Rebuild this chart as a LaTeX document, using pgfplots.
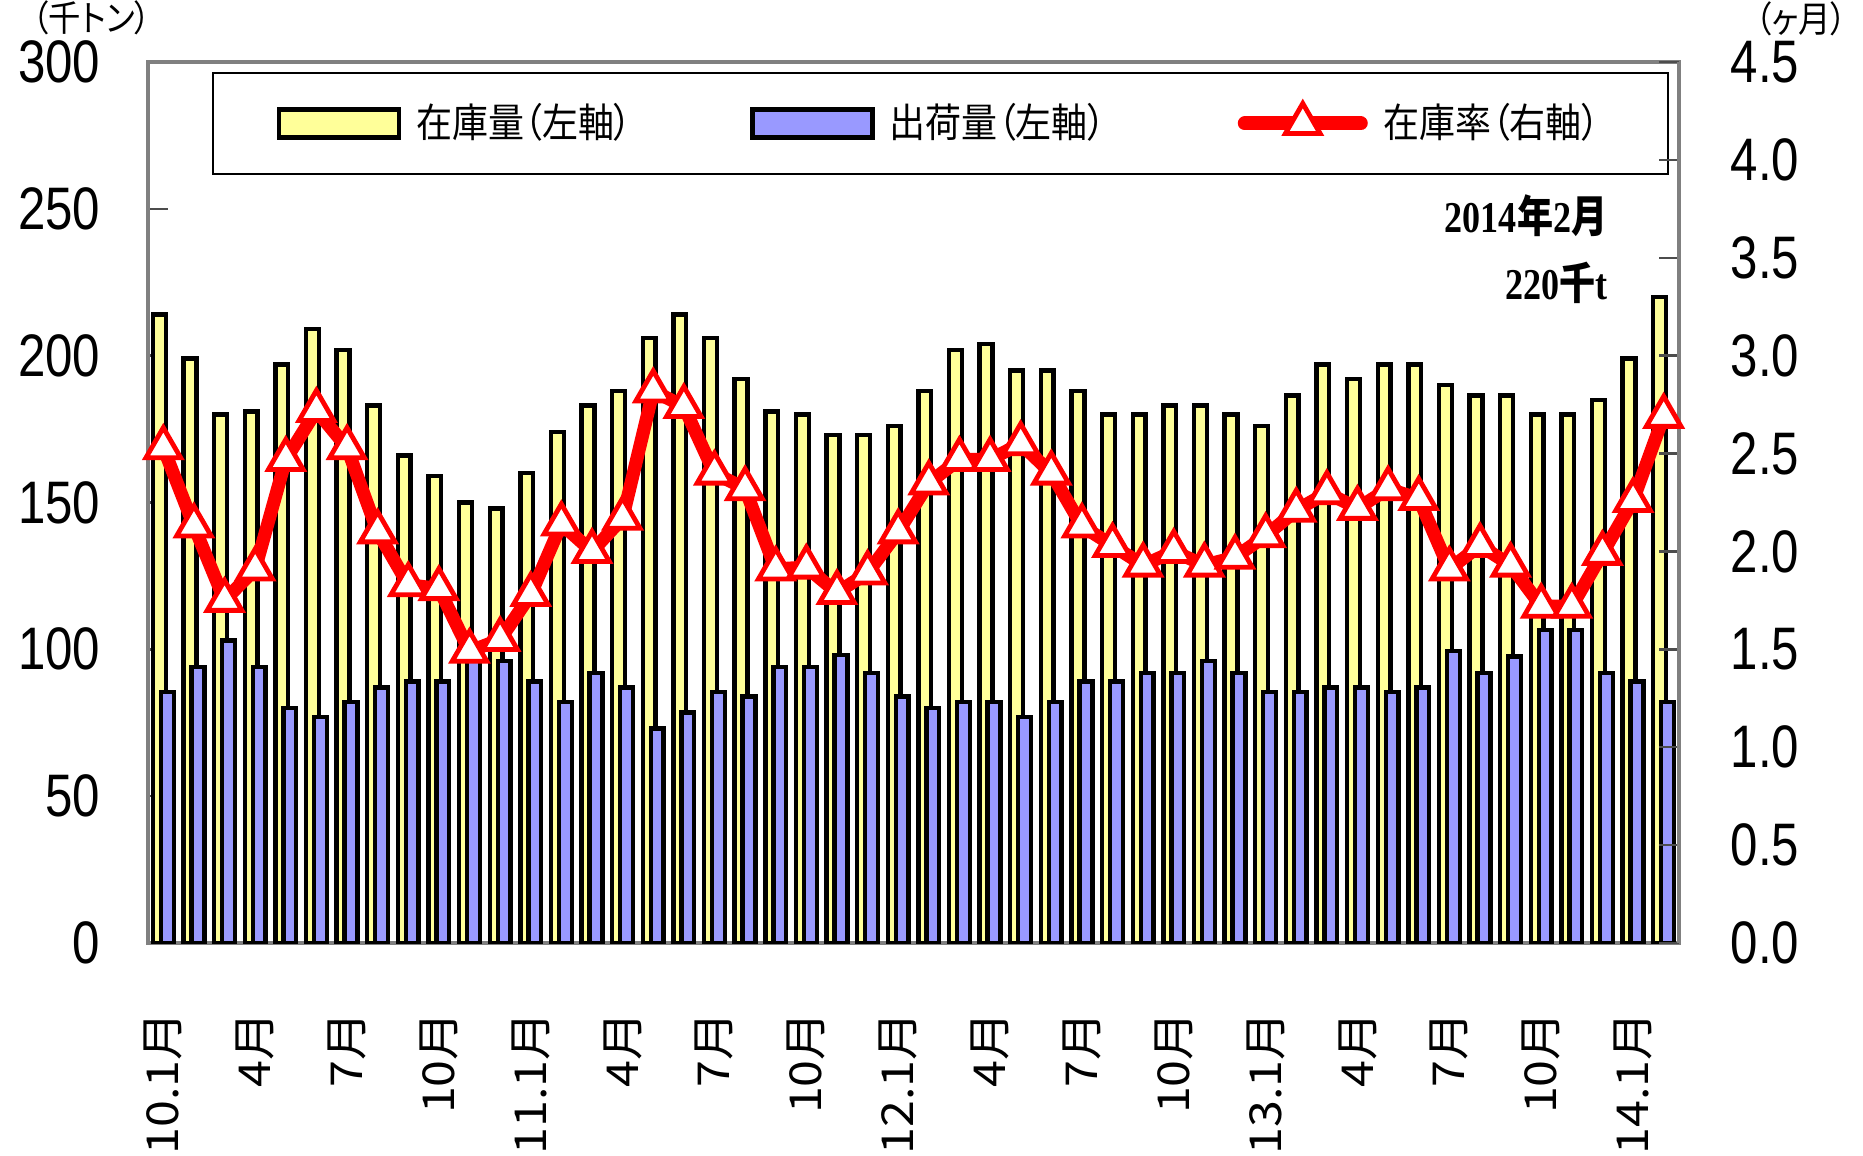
\documentclass[border=0pt]{standalone}
\usepackage{fontspec}
\usepackage{pgfplots}
\usepackage{pgfplotstable}
\pgfplotsset{compat=1.18}
\setmainfont{Liberation Sans}
\newfontfamily\jpfont[RawFeature=+palt,FakeStretch=0.9]{Noto Sans CJK JP}
\newfontfamily\tickfont[FakeStretch=0.82]{Liberation Sans}
\newfontfamily\xlabfont[FakeStretch=1.1]{Noto Sans CJK JP}
\newfontfamily\annofont[FakeStretch=0.82]{Liberation Serif}
\newfontfamily\annojp[FakeStretch=0.82]{Noto Sans CJK JP}

\definecolor{stockfill}{RGB}{255,255,153}
\definecolor{shipfill}{RGB}{153,153,255}
\definecolor{axisgray}{RGB}{128,128,128}

% monthly data, 2010.1 - 2014.2
\pgfplotstableread{
idx stock ship rate
0  214   85.5  2.53
1  199   94    2.13
2  180   103   1.75
3  181   94    1.91
4  197   80    2.47
5  209   77    2.72
6  202   82    2.53
7  183   87    2.10
8  166   89    1.83
9  159   89    1.81
10 150   97    1.49
11 148   96    1.55
12 160   89    1.78
13 174   82    2.14
14 183   92    2.00
15 188   87    2.17
16 206   73    2.82
17 214   78.5  2.74
18 206   85.5  2.40
19 192   84    2.32
20 181   94    1.91
21 180   94    1.92
22 173   98    1.79
23 173   92    1.89
24 176   84    2.10
25 188   80    2.35
26 202   82    2.47
27 204   82    2.47
28 195   77    2.55
29 195   82    2.40
30 188   89    2.13
31 180   89    2.03
32 180   92    1.93
33 183   92    2.00
34 183   96    1.93
35 180   92    1.97
36 176   85.5  2.08
37 186.5 85.5  2.21
38 197   87    2.30
39 192   87    2.22
40 197   85.5  2.32
41 197   87    2.27
42 190   99.5  1.91
43 186.5 92    2.03
44 186.5 97.5  1.93
45 180   106.5 1.72
46 180   106.5 1.72
47 185   92    1.99
48 199   89    2.26
49 220   82    2.69
}\datatable

\begin{document}
\begin{tikzpicture}
\path[use as bounding box] (-37pt,-53.25pt) rectangle (428.75pt,235.75pt);

\begin{axis}[
    at={(0pt,0pt)}, anchor=south west,
    scale only axis,
    width=382.75pt, height=220.25pt,
    xmin=-0.5, xmax=49.5,
    ymin=0, ymax=300,
    ybar=-1.2pt, bar width=3.2pt,
    axis line style={axisgray, line width=0.8pt},
    xtick={0,3,...,48},
    xticklabels={10.1月,4月,7月,10月,11.1月,4月,7月,10月,12.1月,4月,7月,10月,13.1月,4月,7月,10月,14.1月},
    xtick style={draw=none},
    xticklabel style={font=\xlabfont\fontsize{11pt}{12pt}\selectfont, rotate=90, anchor=east, inner sep=0pt},
    xticklabel shift=17pt,
    ytick={0,50,100,150,200,250,300},
    ytick pos=left,
    tick align=inside,
    major tick length=5pt,
    ytick style={black!70, line width=0.6pt},
    yticklabel style={font=\tickfont\fontsize{15pt}{17pt}\selectfont, inner sep=0pt, anchor=east},
    yticklabel shift=11.75pt,
    /pgf/number format/assume math mode=true,
    legend columns=3,
    legend cell align=left,
    legend style={at={(0.0418,0.9886)}, anchor=north west, draw=black, line width=0.4pt,
        fill=white, inner xsep=0pt, inner ysep=0pt, column sep=0pt,
        font=\jpfont\fontsize{10pt}{12pt}\selectfont, nodes={inner sep=0pt}},
]
\addplot[fill=stockfill, draw=black, line width=1.1pt,
    legend image code/.code={
        \path (-16pt,-12.1pt) (33.75pt,12.1pt);
        \draw[fill=stockfill, draw=black, line width=1.2pt] (0pt,-3.5pt) rectangle (30pt,3.5pt);}]
    table[x=idx, y=stock] {\datatable};
\addlegendentry{\makebox[83.5pt][l]{在庫量（左軸）}}
\addplot[fill=shipfill, draw=black, line width=1.1pt,
    legend image code/.code={
        \path (0pt,0pt) (33.75pt,0pt);
        \draw[fill=shipfill, draw=black, line width=1.2pt] (0pt,-3.5pt) rectangle (30pt,3.5pt);}]
    table[x=idx, y=ship] {\datatable};
\addlegendentry{\makebox[85.25pt][l]{出荷量（左軸）}}
\addlegendimage{red, line width=3.5pt, line cap=round, mark=triangle*, mark size=5pt,
    mark options={fill=white, draw=red, line width=1.2pt, solid},
    legend image code/.code={
        \path (0pt,0pt) (34.75pt,0pt);
        \draw[sharp plot, mark repeat=2, mark phase=2] plot coordinates {(1.75pt,0pt) (16.25pt,0pt) (30.75pt,0pt)};}}
\addlegendentry{\makebox[71pt][l]{在庫率（右軸）}}
\end{axis}

\begin{axis}[
    at={(0pt,0pt)}, anchor=south west,
    scale only axis,
    width=382.75pt, height=220.25pt,
    xmin=-0.5, xmax=49.5,
    ymin=0, ymax=4.5,
    hide x axis,
    axis y line*=right,
    axis line style={axisgray, line width=0.8pt},
    ytick={0,0.5,1,1.5,2,2.5,3,3.5,4,4.5},
    tick align=inside,
    major tick length=5pt,
    ytick style={black!70, line width=0.6pt},
    yticklabel style={font=\tickfont\fontsize{15pt}{17pt}\selectfont, inner sep=0pt, anchor=west,
        /pgf/number format/.cd, fixed, fixed zerofill, precision=1},
    yticklabel shift=12.75pt,
    /pgf/number format/assume math mode=true,
]
\addplot[red, line width=3.3pt, mark=triangle*, mark size=5pt,
    mark options={fill=white, draw=red, line width=1.2pt, solid}]
    table[x=idx, y=rate] {\datatable};
\end{axis}

\node[font=\jpfont\fontsize{9pt}{10pt}\selectfont, inner sep=0pt] at (-14.1pt,231.2pt) {（千トン）};
\node[font=\jpfont\fontsize{9pt}{10pt}\selectfont, inner sep=0pt] at (413.4pt,231pt) {（ヶ月）};
\node[anchor=east, inner sep=0pt, font=\fontsize{11pt}{12pt}\selectfont\bfseries] at (365pt,181.75pt)
    {\annofont 2014\annojp 年\annofont 2\annojp 月};
\node[anchor=east, inner sep=0pt, font=\fontsize{11pt}{12pt}\selectfont\bfseries] at (365pt,165pt)
    {\annofont 220\annojp 千\annofont t};
\end{tikzpicture}
\end{document}
